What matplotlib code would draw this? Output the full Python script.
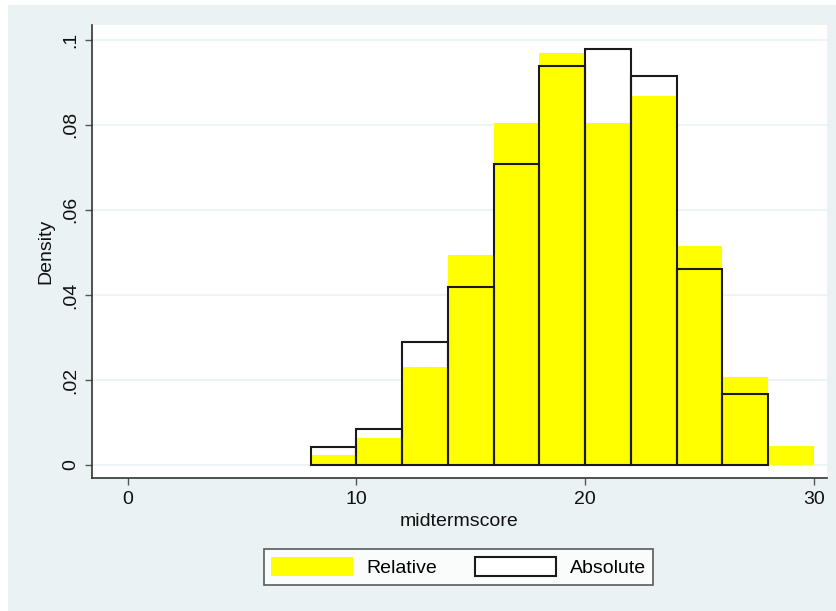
import numpy as np
import matplotlib
matplotlib.use("Agg")
import matplotlib.pyplot as plt
from matplotlib.patches import Patch, Rectangle

plt.rcParams['font.family'] = ['Liberation Sans', 'DejaVu Sans']

# bin edges (width 2) and densities
rel_left = [8, 10, 12, 14, 16, 18, 20, 22, 24, 26, 28]
rel_density = [0.0024, 0.0064, 0.0230, 0.0495, 0.0804, 0.0969,
               0.0804, 0.0867, 0.0515, 0.0208, 0.0045]

abs_left = [8, 10, 12, 14, 16, 18, 20, 22, 24, 26]
abs_density = [0.0043, 0.0085, 0.0290, 0.0418, 0.0708, 0.0938,
               0.0979, 0.0916, 0.0460, 0.0167]

xticks = [0, 10, 20, 30]
yticks = [0, 0.02, 0.04, 0.06, 0.08, 0.1]
ytick_labels = ['0', '.02', '.04', '.06', '.08', '.1']

bg = '#eaf2f3'
edge = '#1a1a1a'
W, H = 837, 611
fs = 14

fig = plt.figure(figsize=(W / 100, H / 100), dpi=100)
fig.patch.set_facecolor('white')
fig.patches.append(Rectangle((8 / W, 0), 1 - 8 / W, 1 - 5 / H,
                             transform=fig.transFigure, facecolor=bg,
                             edgecolor='none', zorder=-10))

ax = fig.add_axes([92 / W, 1 - 478 / H, 735 / W, 453 / H])
ax.set_facecolor('white')

ax.bar(rel_left, rel_density, width=2, align='edge', color='#ffff00',
       edgecolor='none', zorder=2)
ax.bar(abs_left, abs_density, width=2, align='edge', facecolor='none',
       edgecolor=edge, linewidth=1.5, zorder=3)

ax.set_xlim(-1.56, 30.58)
ax.set_ylim(-0.00306, 0.1035)

ax.set_xticks(xticks)
ax.set_yticks(yticks)
ax.set_yticklabels(ytick_labels, rotation=90, va='center')
ax.tick_params(axis='both', labelsize=fs, length=5, width=1,
               color='#555555', labelcolor='#111111', pad=4)
ax.grid(axis='y', color=bg, linewidth=1.2, zorder=0)
ax.set_axisbelow(True)

for s in ['top', 'right']:
    ax.spines[s].set_visible(False)
for s in ['left', 'bottom']:
    ax.spines[s].set_color('#333333')
    ax.spines[s].set_linewidth(1.2)

ax.set_xlabel('midtermscore', fontsize=fs, color='#111111', labelpad=4)
ax.set_ylabel('Density', fontsize=fs, color='#111111', labelpad=6)

handles = [Patch(facecolor='#ffff00', edgecolor='none', label='Relative'),
           Patch(facecolor='white', edgecolor=edge, linewidth=1.5,
                 label='Absolute')]
leg = fig.legend(handles=handles, loc='center',
                 bbox_to_anchor=(458.5 / W, 1 - 567 / H), ncol=2,
                 fontsize=fs, frameon=True, fancybox=False,
                 handlelength=4.2, handleheight=1.15, handletextpad=0.67,
                 columnspacing=1.95, borderpad=0.4)
leg.get_frame().set_edgecolor('#333333')
leg.get_frame().set_linewidth(1.2)

fig.savefig('out.png', dpi=100)
